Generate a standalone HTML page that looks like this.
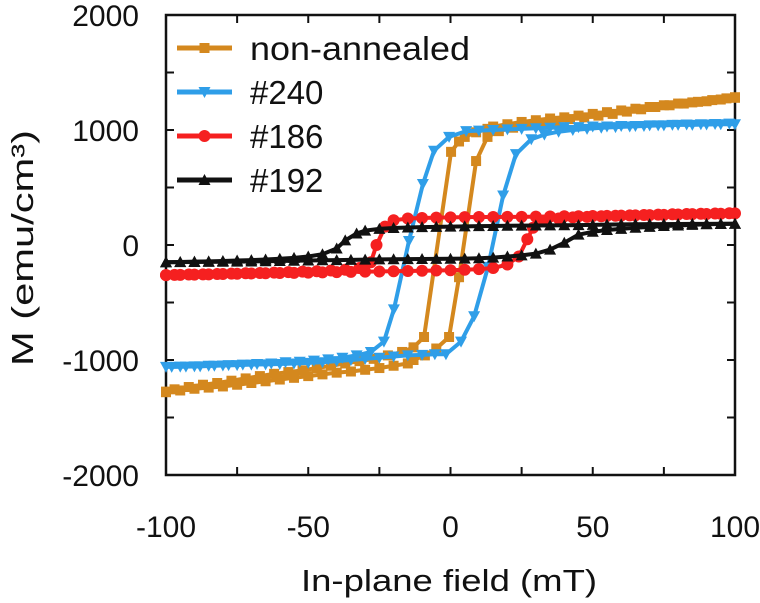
<!DOCTYPE html>
<html><head><meta charset="utf-8"><style>
html,body{margin:0;padding:0;background:#fff;}
svg{display:block;font-family:"Liberation Sans",sans-serif;}
</style></head><body>
<svg id="chart" width="760" height="603" viewBox="0 0 760 603"></svg>
<script>
// ---- data ----
const xTicks = [-100, -50, 0, 50, 100];
const yTicks = [-2000, -1000, 0, 1000, 2000];
const seriesNames = ["non-annealed", "#240", "#186", "#192"];

const naDownH = [100,95,90,85,80,75,70,65,60,55,50,45,40,35,30,25,20,15,13,9,5,3,0.2,-9.3,-13,-17,-22,-27,-32,-37,-42,-47,-52,-57,-62,-67,-72,-77,-82,-87,-92,-97,-100];
const naDownM = [1280,1265,1250,1240,1230,1215,1200,1185,1170,1155,1140,1125,1110,1100,1085,1070,1050,1030,1010,980,940,900,810,-800,-890,-930,-960,-990,-1010,-1030,-1050,-1070,-1090,-1105,-1120,-1140,-1160,-1180,-1200,-1215,-1235,-1255,-1275];
const naUpH = [-100,-95,-90,-85,-80,-75,-70,-65,-60,-55,-50,-45,-40,-35,-30,-25,-20,-15,-13,-9,-5,-0.5,3,9,13,17,22,27,32,37,42,47,52,57,62,67,72,77,82,87,92,97,100];
const naUpM = [-1280,-1265,-1250,-1240,-1230,-1215,-1200,-1185,-1170,-1155,-1140,-1125,-1110,-1100,-1085,-1070,-1050,-1030,-1000,-960,-900,-800,-280,730,940,990,1020,1045,1065,1080,1095,1110,1125,1140,1160,1180,1200,1215,1230,1245,1260,1275,1285];

const b240DownH = [100,95,90,85,80,75,70,65,60,55,50,45,40,35,30,25,20,15,10,5.5,-0.5,-5.8,-9.7,-14.6,-19.9,-23.4,-28,-33,-38,-43,-48,-53,-58,-63,-68,-73,-78,-83,-88,-93,-98];
const b240DownM = [1050,1050,1048,1045,1045,1040,1040,1035,1035,1030,1030,1025,1025,1020,1015,1010,1005,1000,995,990,940,820,530,35,-560,-840,-930,-960,-980,-995,-1005,-1015,-1020,-1030,-1035,-1040,-1045,-1050,-1055,-1058,-1060];
const b240UpH = [-100,-95,-90,-85,-80,-75,-70,-65,-60,-55,-50,-45,-40,-35,-30,-25,-20,-15,-10,-5.5,-1.6,3.7,8.3,13.2,18.5,23,28.4,33,38,43,48,53,58,63,68,73,78,83,88,93,98];
const b240UpM = [-1060,-1058,-1055,-1050,-1048,-1045,-1040,-1038,-1035,-1030,-1025,-1020,-1010,-1000,-990,-980,-970,-960,-955,-950,-950,-840,-620,-190,430,790,920,960,985,1000,1010,1020,1025,1030,1035,1040,1045,1048,1050,1052,1055];

const r186DownH = [100,95,90,85,80,75,70,65,60,55,50,45,40,35,30,25,20,15,10,5,0,-5,-10,-15,-20,-23,-26,-28,-32,-37,-42,-47,-52,-57,-62,-67,-72,-77,-82,-87,-92,-97,-100];
const r186DownM = [275,272,270,268,265,262,260,258,255,253,252,250,250,248,247,245,245,244,243,242,240,238,235,230,215,160,0,-150,-200,-215,-222,-228,-232,-236,-240,-243,-246,-249,-252,-255,-257,-260,-262];
const r186UpH = [-100,-95,-90,-85,-80,-75,-70,-65,-60,-55,-50,-45,-40,-35,-30,-25,-20,-15,-10,-5,0,5,10,15,20,24,27,29,33,38,43,48,53,58,63,68,73,78,83,88,93,98];
const r186UpM = [-262,-260,-258,-255,-252,-250,-248,-246,-244,-242,-240,-238,-236,-234,-232,-230,-228,-226,-224,-222,-220,-215,-210,-200,-170,-100,50,150,210,230,240,245,250,254,258,261,264,267,270,272,274,276];

const k192DownH = [100,95,90,85,80,75,70,65,60,55,50,45,40,35,30,25,20,15,10,5,0,-5,-10,-15,-20,-25,-30,-33,-37,-40,-45,-50,-55,-60,-65,-70,-75,-80,-85,-90,-95,-100];
const k192DownM = [185,185,184,184,183,182,181,180,179,177,175,173,172,171,170,168,167,165,164,162,160,158,155,152,148,140,125,100,40,-30,-80,-100,-112,-120,-126,-131,-135,-139,-142,-145,-148,-150];
const k192UpH = [-100,-95,-90,-85,-80,-75,-70,-65,-60,-55,-50,-45,-40,-35,-30,-25,-20,-15,-10,-5,0,5,10,15,20,25,30,35,40,45,50,55,60,65,70,75,80,85,90,95,100];
const k192UpM = [-150,-149,-148,-147,-146,-145,-143,-141,-139,-137,-135,-133,-131,-129,-127,-125,-124,-123,-122,-121,-120,-118,-115,-110,-100,-90,-75,-40,20,90,115,130,140,150,158,165,170,175,180,183,185];

// ---- layout ----
const L=166, R=735, T=15, B=475;
const xS = h => L + (h + 100) / 200 * (R - L);
const yS = m => T + (2000 - m) / 4000 * (B - T);
const svg = document.getElementById('chart');
const NS = 'http://www.w3.org/2000/svg';
function mk(tag, attrs, parent){
  const e = document.createElementNS(NS, tag);
  for (const k in attrs) e.setAttribute(k, attrs[k]);
  (parent || svg).appendChild(e);
  return e;
}

const frame = mk('rect', {x:L, y:T, width:R-L, height:B-T, fill:'none', stroke:'#111', 'stroke-width':2.5});



for (let v = -100; v <= 100; v += 25) {
  const x = xS(v), len = 8;
  mk('line', {x1:x, y1:B, x2:x, y2:B-len, stroke:'#111', 'stroke-width':2});
  mk('line', {x1:x, y1:T, x2:x, y2:T+len, stroke:'#111', 'stroke-width':2});
}
for (let v = -2000; v <= 2000; v += 500) {
  const y = yS(v), len = 8;
  mk('line', {x1:L, y1:y, x2:L+len, y2:y, stroke:'#111', 'stroke-width':2});
  mk('line', {x1:R, y1:y, x2:R-len, y2:y, stroke:'#111', 'stroke-width':2});
}
xTicks.forEach(v => {
  const t = mk('text', {x:xS(v), y:537, 'text-anchor':'middle', 'font-size':30, fill:'#111'});
  t.textContent = v;
  
  
});
yTicks.forEach(v => {
  const t = mk('text', {x:139, y:yS(v)+11, 'text-anchor':'end', 'font-size':30, fill:'#111'});
  t.textContent = v;
  
  
});
const xt = mk('text', {x:449, y:591, 'text-anchor':'middle', 'font-size':31, fill:'#111', textLength:296, lengthAdjust:'spacingAndGlyphs'});
xt.textContent = 'In-plane field (mT)';


const yt = mk('text', {x:0, y:0, 'text-anchor':'middle', 'font-size':31, fill:'#111', transform:'translate(33,248) rotate(-90)', textLength:236, lengthAdjust:'spacingAndGlyphs'});
yt.textContent = 'M (emu/cm³)';



function marker(kind, x, y, color, parent){
  if (kind === 'square') return mk('rect', {x:x-5, y:y-5, width:10, height:10, fill:color}, parent);
  if (kind === 'circle') return mk('circle', {cx:x, cy:y, r:6, fill:color}, parent);
  if (kind === 'down') return mk('path', {d:`M${x-6},${y-5}L${x+6},${y-5}L${x},${y+6}Z`, fill:color}, parent);
  return mk('path', {d:`M${x-6},${y+5}L${x+6},${y+5}L${x},${y-6}Z`, fill:color}, parent);
}
function branch(H, M, color, kind, name){
  const g = mk('g', {});
  
  
  mk('polyline', {points:H.map((h,i)=>xS(h)+','+yS(M[i])).join(' '), fill:'none', stroke:color, 'stroke-width':4, 'stroke-linejoin':'round'}, g);
  H.forEach((h,i)=>marker(kind, xS(h), yS(M[i]), color, g));
}
const cO='#d4881e', cB='#2f9ee8', cR='#f52020', cK='#111111';
branch(naDownH, naDownM, cO, 'square', 'non-annealed-descending');
branch(naUpH, naUpM, cO, 'square', 'non-annealed-ascending');
branch(b240DownH, b240DownM, cB, 'down', 'series-240-descending');
branch(b240UpH, b240UpM, cB, 'down', 'series-240-ascending');
branch(r186DownH, r186DownM, cR, 'circle', 'series-186-descending');
branch(r186UpH, r186UpM, cR, 'circle', 'series-186-ascending');
branch(k192DownH, k192DownM, cK, 'up', 'series-192-descending');
branch(k192UpH, k192UpM, cK, 'up', 'series-192-ascending');

const legend = mk('g', {});


const kinds=['square','down','circle','up'], cols=[cO,cB,cR,cK];
seriesNames.forEach((n,i)=>{
  const y = 48 + i*44;
  const g = mk('g', {}, legend);
  
  
  mk('line', {x1:177, y1:y, x2:232, y2:y, stroke:cols[i], 'stroke-width':5}, g);
  marker(kinds[i], 204.5, y, cols[i], g);
  const t = mk('text', {x:250, y:y+12, 'font-size':33, fill:'#111'}, g);
  t.textContent = n;
  if (i===0){ t.setAttribute('textLength', 220); t.setAttribute('lengthAdjust','spacingAndGlyphs'); }
});
</script>
</body></html>
